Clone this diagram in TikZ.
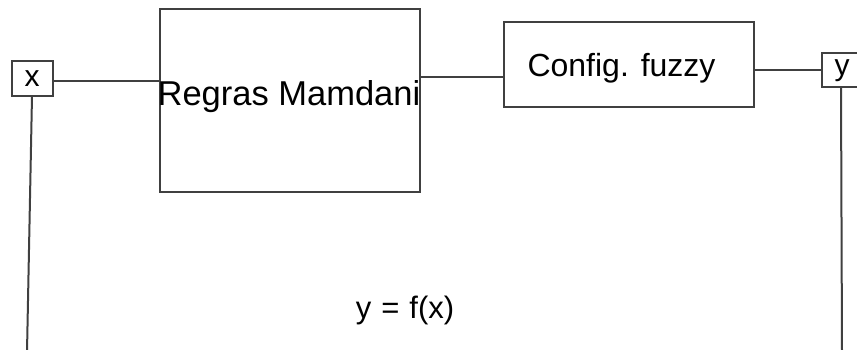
\documentclass[tikz,border=0pt]{standalone}
\usepackage{fontspec}
\setmainfont{Liberation Sans}
\begin{document}
\begin{tikzpicture}[x=1pt,y=-1pt,
  wire/.style={draw=black!75, line width=2pt},
  blockbox/.style={draw=black!75, line width=2pt, fill=white, inner sep=0pt, outer sep=0pt},
  lbl/.style={inner sep=0pt, anchor=base, text=black}]
  \useasboundingbox (0,0) rectangle (857,350);
  % blocks
  \node[blockbox, minimum width=41pt, minimum height=35pt] (xin) at (32.5,78.5) {};
  \node[blockbox, minimum width=260pt, minimum height=183pt] (rules) at (290,100.5) {};
  \node[blockbox, minimum width=250pt, minimum height=85pt] (cfg) at (629,64.5) {};
  \node[blockbox, minimum width=50pt, minimum height=34pt] (yout) at (847,70) {};
  % labels
  \node[lbl, font=\fontsize{30}{30}\selectfont] (xtxt) at (32,86.5) {x};
  \node[lbl, font=\fontsize{34.5}{34.5}\selectfont] (rulestxt) at (289,106) {Regras Mamdani};
  \node[lbl, font=\fontsize{32}{32}\selectfont] (cfgtxt) at (621.5,77) {Config. fuzzy};
  \node[lbl, font=\fontsize{30}{30}\selectfont] (ytxt) at (842,76) {y};
  \node[lbl, font=\fontsize{31}{31}\selectfont] (fx) at (405,318) {y\kern 10pt=\kern 10pt f(x)};
  % connections
  \coordinate (xdown) at (27,352);
  \coordinate (ydown) at (842,352);
  \draw[wire] (xin.east |- 0,81) -- (rules.west |- 0,81);
  \draw[wire] (rules.east |- 0,77) -- (cfg.west |- 0,77);
  \draw[wire] (cfg.east |- yout.west) -- (yout.west);
  \draw[wire] (xin.south) ++(-0.5,0) -- (xdown);
  \draw[wire] (yout.south -| 841,0) -- (ydown);
\end{tikzpicture}
\end{document}
